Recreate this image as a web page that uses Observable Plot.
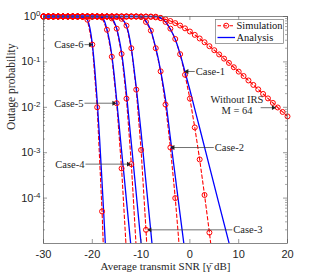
<!DOCTYPE html>
<html><head><meta charset="utf-8">
<script src="https://cdn.jsdelivr.net/npm/d3@7"></script>
<script src="https://cdn.jsdelivr.net/npm/@observablehq/plot@0.6"></script>
<style>
body{margin:0;background:#fff;}
#wrap{position:relative;width:316px;height:279px;overflow:hidden;}
#legend{position:absolute;left:215px;top:19px;}
</style></head><body><div id="wrap"></div>
<script>
// ---- data ----
const snrGrid = [-30,-29,-28,-27,-26,-25,-24,-23,-22,-21,-20,-19,-18,-17,-16,-15,-14,-13,-12,-11,-10,-9,-8,-7,-6,-5,-4,-3,-2,-1,0,1,2,3,4,5,6,7,8,9,10,11,12,13,14,15,16,17,18,19,20];

// Simulation values, aligned with snrGrid (series end after they leave the chart)
const simCase6 = [1,1,1,1,1,1,1,1,0.99,0.85,0.24,0.01,5.1e-5,6e-8];
const simCase5 = [1,1,1,1,1,1,1,1,1,1,1,1,0.95,0.51,0.13,0.0123,4.5e-4,6.3e-6];
const simCase4 = [1,1,1,1,1,1,1,1,1,1,1,1,1,1,0.91,0.54,0.15,0.0155,5.6e-4,7.9e-6];
const simCase3 = [1,1,1,1,1,1,1,1,1,1,1,1,1,1,1,0.98,0.89,0.63,0.2,0.0245,1.15e-3,2e-5,2e-7];
const simCase2 = [1,1,1,1,1,1,1,1,1,1,1,1,1,1,1,1,1,1,1,1,0.97,0.76,0.49,0.2,0.062,0.0115,1.3e-3,1.0e-4,5e-6];
const simCase1 = [1,1,1,1,1,1,1,1,1,1,1,1,1,1,1,1,1,1,1,1,1,1,1,0.99,0.93,0.76,0.54,0.32,0.148,0.052,0.0155,3.6e-3,7.1e-4,1.17e-4,1.74e-5,2.2e-6];
const simNoIRS = [1,1,1,1,1,1,1,1,1,1,1,1,1,1,1,1,1,1,0.99995,0.9996,0.998,0.993,0.981,0.957,0.919,0.864,0.795,0.715,0.632,0.548,0.467,0.394,0.328,0.271,0.222,0.181,0.146,0.118,0.095,0.0762,0.0611,0.0488,0.039,0.0311,0.0248,0.0197,0.0157,0.0125,0.0099,0.0079,0.0063];

// Analysis curves
const anaCase6SNR = [-30,-23,-22,-21.5,-21,-20.5,-20,-19.5,-19,-18.5,-18,-17.5,-17];
const anaCase6P   = [1,1,0.99,0.955,0.85,0.56,0.25,0.071,0.014,2.0e-3,2.2e-4,2.2e-5,2.2e-6];
const anaCase5SNR = [-30,-19,-18,-17.5,-17,-16.5,-16,-15.5,-15,-14.5,-14,-13.5,-13,-12.5,-12];
const anaCase5P   = [1,1,0.955,0.79,0.52,0.30,0.14,0.05,0.014,4.0e-3,1.1e-3,3.2e-4,8.9e-5,2.5e-5,7.1e-6];
const anaCase4SNR = [-30,-17,-16,-15.5,-15,-14.5,-14,-13.5,-13,-12.5,-12,-11.5,-11,-10.5,-10,-9.5];
const anaCase4P   = [1,1,0.91,0.76,0.54,0.32,0.16,0.063,0.02,5.6e-3,1.6e-3,4.5e-4,1.26e-4,3.5e-5,1e-5,2.8e-6];
const anaCase3SNR = [-30,-15,-14,-13.5,-13,-12.5,-12,-11.5,-11,-10.5,-10,-9.5,-9,-8.5,-8,-7.5];
const anaCase3P   = [1,1,0.89,0.79,0.63,0.4,0.2,0.079,0.028,8.9e-3,2.8e-3,7.9e-4,2.2e-4,6.3e-5,1.8e-5,5e-6];
const anaCase2SNR = [-30,-10,-9.5,-9,-8.5,-8,-7.5,-7,-6.5,-6,-5.5,-5,-4,-3,-2,-1];
const anaCase2P   = [1,1,0.955,0.79,0.65,0.49,0.33,0.2,0.12,0.063,0.032,0.015,2.1e-3,3.0e-4,4.3e-5,6.3e-6];
const anaCase1SNR = [-30,-7,-6,-5,-4,-3,-2,-1,0,1,2,4,6,8,9];
const anaCase1P   = [1,1,0.93,0.76,0.525,0.316,0.148,0.06,0.024,9.1e-3,3.5e-3,5e-4,7.2e-5,1.05e-5,4e-6];

const xTicks = [-30,-20,-10,0,10,20];
const yTicks = [1e-4,1e-3,1e-2,1e-1,1];
const yMinor = [2e-5,3e-5,4e-5,5e-5,6e-5,7e-5,8e-5,9e-5,2e-4,3e-4,4e-4,5e-4,6e-4,7e-4,8e-4,9e-4,2e-3,3e-3,4e-3,5e-3,6e-3,7e-3,8e-3,9e-3,0.02,0.03,0.04,0.05,0.06,0.07,0.08,0.09,0.2,0.3,0.4,0.5,0.6,0.7,0.8,0.9];

// annotations: arrow tail / tip in data space
const leftNotes = [
  {label:"Case-6", y:0.24,   tailX:-21.6, tipX:-20.4},
  {label:"Case-5", y:0.0123, tailX:-21.6, tipX:-15.6},
  {label:"Case-4", y:5.6e-4, tailX:-21.4, tipX:-12.6}
];
const rightNotes = [
  {label:"Case-3", y:2e-5,   tailX:8.7,  tipX:-8.2},
  {label:"Case-2", y:1.3e-3, tailX:4.9,  tipX:-3.45},
  {label:"Case-1", y:0.0615, tailX:1.0,  tipX:-0.6}
];
const irsNote = {y:0.0098, tailX:14.5, tipX:17.1, textX:9.65, line1Y:0.0148, line2Y:0.0085};

// ---- build tables ----
const simSeries = [["Case-6",simCase6],["Case-5",simCase5],["Case-4",simCase4],["Case-3",simCase3],["Case-2",simCase2],["Case-1",simCase1],["NoIRS",simNoIRS]];
const simRows = [];
for (const [name, vals] of simSeries) vals.forEach((p,i) => simRows.push({series:name, snr:snrGrid[i], p}));
const anaSeries = [["Case-6",anaCase6SNR,anaCase6P],["Case-5",anaCase5SNR,anaCase5P],["Case-4",anaCase4SNR,anaCase4P],["Case-3",anaCase3SNR,anaCase3P],["Case-2",anaCase2SNR,anaCase2P],["Case-1",anaCase1SNR,anaCase1P]];
const anaRows = [];
for (const [name, xs, ps] of anaSeries) xs.forEach((x,i) => anaRows.push({series:name, snr:x, p:ps[i]}));
const allNotes = leftNotes.concat(rightNotes).concat([{label:"", y:irsNote.y, tailX:irsNote.tailX, tipX:irsNote.tipX}]);

// ---- layout ----
const W = 316, H = 279, mL = 43, mR = 29, mT = 16, mB = 36;
const fw = W - mL - mR, fh = H - mT - mB;
const serif = "Liberation Serif, Times New Roman, serif";
const axisCol = "#555";

const chart = Plot.plot({
  width: W, height: H,
  marginLeft: mL, marginRight: mR, marginTop: mT, marginBottom: mB,
  x: {domain: [-30, 20]},
  y: {type: "log", domain: [1e-5, 1]},
  style: {fontFamily: "Liberation Sans, Arial, sans-serif", fontSize: "11px", color: "#262626", background: "#fff"},
  marks: [
    Plot.line(simRows, {x: "snr", y: "p", z: "series", stroke: "#ff0000", strokeWidth: 1.1, strokeDasharray: "3.5,2.5", clip: true}),
    Plot.line(anaRows, {x: "snr", y: "p", z: "series", stroke: "#0000ff", strokeWidth: 1.3, curve: "monotone-x", clip: true}),
    Plot.dot(simRows.filter(d => d.p >= 1e-5), {x: "snr", y: "p", r: 2.5, stroke: "#ff0000", strokeWidth: 1, fill: "none"}),
    // inward ticks
    Plot.tickY(yTicks, {y: d => d, insetRight: fw - 4, stroke: axisCol, strokeWidth: 0.6}),
    Plot.tickY(yTicks, {y: d => d, insetLeft: fw - 4, stroke: axisCol, strokeWidth: 0.6}),
    Plot.tickY(yMinor, {y: d => d, insetRight: fw - 2, stroke: axisCol, strokeWidth: 0.5}),
    Plot.tickY(yMinor, {y: d => d, insetLeft: fw - 2, stroke: axisCol, strokeWidth: 0.5}),
    Plot.tickX(xTicks, {x: d => d, insetTop: fh - 4, stroke: axisCol, strokeWidth: 0.6}),
    Plot.tickX(xTicks, {x: d => d, insetBottom: fh - 4, stroke: axisCol, strokeWidth: 0.6}),
    Plot.frame({stroke: axisCol, strokeWidth: 0.7}),
    Plot.axisX({ticks: xTicks, tickSize: 0, tickPadding: 7, tickFormat: d => String(d), label: null}),
    Plot.axisY({ticks: yTicks, tickSize: 0, tickPadding: 3, tickFormat: d => "10^" + Math.round(Math.log10(d)), label: null}),
    Plot.text(["Average transmit SNR [\u03B3\u0304 dB]"], {text: d => d, frameAnchor: "bottom", dy: 26, fontFamily: serif, fontSize: 11}),
    Plot.text(["Outage probability"], {text: d => d, frameAnchor: "left", rotate: -90, dx: -32, fontFamily: serif, fontSize: 11.5}),
    // annotation arrows
    Plot.link(allNotes, {x1: "tailX", y1: "y", x2: "tipX", y2: "y", stroke: "#333", strokeWidth: 0.7}),
    Plot.dot(allNotes, {x: "tipX", y: "y", symbol: "triangle", r: 1.8, fill: "#222", stroke: "none", rotate: d => d.tipX > d.tailX ? 90 : -90}),
    Plot.text(leftNotes, {x: "tailX", y: "y", text: "label", textAnchor: "end", dx: -1, fontFamily: serif, fontSize: 10.5}),
    Plot.text(rightNotes, {x: "tailX", y: "y", text: "label", textAnchor: "start", dx: 1, fontFamily: serif, fontSize: 10.5}),
    Plot.text([irsNote], {x: "textX", y: "line1Y", text: () => "Without IRS", fontFamily: serif, fontSize: 10.5}),
    Plot.text([irsNote], {x: "textX", y: "line2Y", text: () => "M = 64", fontFamily: serif, fontSize: 10.5, ariaLabel: "irs-m"})
  ]
});

const ns = "http://www.w3.org/2000/svg";
// let lines at P = 1 show fully on the top edge
chart.querySelectorAll("clipPath rect").forEach(r => {
  const y = +r.getAttribute("y"), h = +r.getAttribute("height");
  r.setAttribute("y", y - 3); r.setAttribute("height", h + 3);
});
// superscript exponents on the y tick labels
chart.querySelectorAll('g[aria-label="y-axis tick label"] text').forEach(t => {
  const e = t.textContent.split("^")[1];
  t.textContent = "";
  const a = document.createElementNS(ns, "tspan"); a.textContent = "10"; t.appendChild(a);
  const b = document.createElementNS(ns, "tspan"); b.textContent = e;
  b.setAttribute("dy", "-0.45em"); b.setAttribute("font-size", "0.72em"); t.appendChild(b);
});
// italic M
chart.querySelectorAll('g[aria-label="irs-m"] text').forEach(t => {
  t.textContent = "";
  const a = document.createElementNS(ns, "tspan"); a.textContent = "M"; a.setAttribute("font-style", "italic"); t.appendChild(a);
  const b = document.createElementNS(ns, "tspan"); b.textContent = " = 64"; t.appendChild(b);
});

const wrap = document.getElementById("wrap");
wrap.appendChild(chart);
wrap.insertAdjacentHTML("beforeend",
 `<svg id="legend" width="70" height="25" style="font-family:${serif};font-size:10.5px">
   <rect x="0.5" y="0.5" width="68" height="24" fill="#fff" stroke="#777" stroke-width="0.7"/>
   <line x1="2.5" x2="20" y1="6.7" y2="6.7" stroke="#ff0000" stroke-width="1.1" stroke-dasharray="3.5,2.5"/>
   <circle cx="11.2" cy="6.7" r="2.5" fill="none" stroke="#ff0000" stroke-width="1"/>
   <text x="21.5" y="6.7" dy="0.35em" fill="#111">Simulation</text>
   <line x1="2.5" x2="20" y1="18.5" y2="18.5" stroke="#0000ff" stroke-width="1.3"/>
   <text x="21.5" y="18.5" dy="0.35em" fill="#111">Analysis</text>
 </svg>`);
</script>
</body></html>
